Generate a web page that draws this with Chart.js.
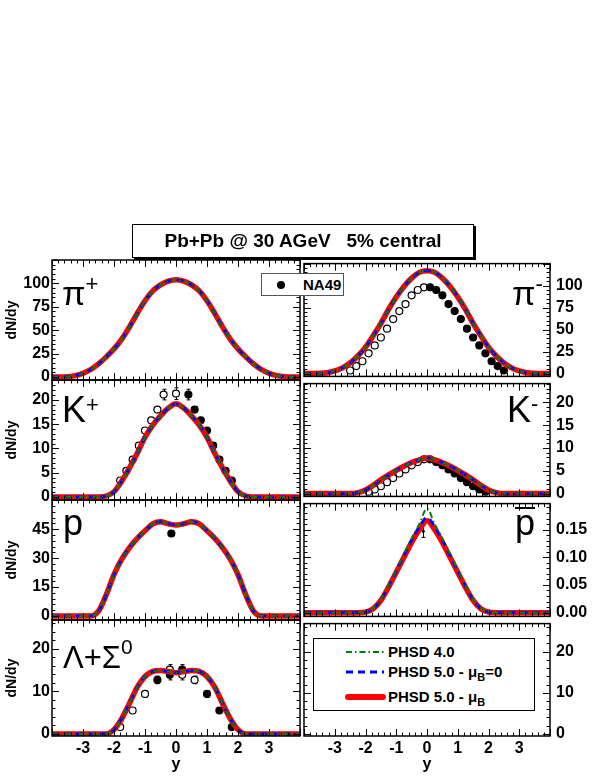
<!DOCTYPE html>
<html>
<head>
<meta charset="utf-8">
<title>Pb+Pb @ 30 AGeV rapidity spectra</title>
<script src="https://cdn.jsdelivr.net/npm/chart.js@4.4.1/dist/chart.umd.min.js"></script>
<style>
  html, body { margin: 0; padding: 0; background: #fff; }
  body { width: 599px; height: 776px; position: relative; overflow: hidden;
         font-family: "Liberation Sans", Arial, sans-serif; color: #000; }
  canvas { position: absolute; }
  .box { position: absolute; background: #fff; box-sizing: border-box; z-index: 2; }
  .lbl { position: absolute; line-height: 1; white-space: nowrap; z-index: 2; }
  .txt { position: absolute; font-weight: bold; font-size: 15px; line-height: 18px; white-space: nowrap; }
</style>
</head>
<body>

<div class="box" id="titleBox" style="left:132px; top:224px; width:342px; height:34px; border:1px solid #000; box-shadow:2px 2px 0 #000;
     font-weight:bold; font-size:19px; line-height:32px; text-align:center; white-space:pre;">Pb+Pb @ 30 AGeV   5% central</div>

<div class="box" id="na49Box" style="left:261px; top:273px; width:83px; height:23px; border:1px solid #555;">
  <div style="position:absolute; left:15px; top:7px; width:8px; height:8px; border-radius:50%; background:#000;"></div>
  <div class="txt" style="left:41px; top:2px;">NA49</div>
</div>

<div class="box" id="modelLegend" style="left:313px; top:638px; width:222px; height:73px; border:1px solid #000;">
  <svg width="222" height="73" style="position:absolute; left:-1px; top:-1px;">
    <line x1="33" y1="14" x2="71" y2="14" stroke="#008000" stroke-width="2" stroke-dasharray="6,3,1.5,3"/>
    <line x1="33" y1="34" x2="71" y2="34" stroke="#0000ff" stroke-width="3" stroke-dasharray="7,5"/>
    <line x1="35" y1="59" x2="70" y2="59" stroke="#ff0000" stroke-width="6" stroke-linecap="round"/>
  </svg>
  <div class="txt" style="left:74px; top:4px;">PHSD 4.0</div>
  <div class="txt" style="left:74px; top:24px;">PHSD 5.0 - &mu;<sub style="font-size:11px;">B</sub>=0</div>
  <div class="txt" style="left:74px; top:49px;">PHSD 5.0 - &mu;<sub style="font-size:11px;">B</sub></div>
</div>

<div class="lbl" style="left:62px; top:273px; font-size:34px;">&pi;<span style="font-size:22px; vertical-align:14px;">+</span></div>
<div class="lbl" style="left:512px; top:273px; font-size:34px;">&pi;<span style="font-size:22px; vertical-align:14px;">-</span></div>
<div class="lbl" style="left:62px; top:392px; font-size:36px;">K<span style="font-size:22px; vertical-align:10px;">+</span></div>
<div class="lbl" style="left:507px; top:392px; font-size:36px;">K<span style="font-size:22px; vertical-align:11px;">-</span></div>
<div class="lbl" style="left:63px; top:505px; font-size:36px;">p</div>
<div class="lbl" style="left:515px; top:505px; font-size:36px;"><span style="display:inline-block; border-top:2px solid #000; line-height:27px;">p</span></div>
<div class="lbl" style="left:63px; top:636px; font-size:31px;">&Lambda;+&Sigma;<span style="font-size:21px; vertical-align:14px;">0</span></div>

<script>
// rapidity grid of the model curves
const rapidity = [-4, -3.75, -3.5, -3.25, -3, -2.75, -2.5, -2.25, -2, -1.75, -1.5, -1.25, -1, -0.75, -0.5, -0.25,
  0, 0.25, 0.5, 0.75, 1, 1.25, 1.5, 1.75, 2, 2.25, 2.5, 2.75, 3, 3.25, 3.5, 3.75, 4];

const xTickValues = [-3, -2, -1, 0, 1, 2, 3];
const xTickLabels = ['-3', '-2', '-1', '0', '1', '2', '3'];

const pionTickValues = [0, 25, 50, 75, 100];
const pionTickLabels = ['0', '25', '50', '75', '100'];
const kaonTickValues = [0, 5, 10, 15, 20];
const kaonTickLabels = ['0', '5', '10', '15', '20'];
const protonTickValues = [0, 15, 30, 45];
const protonTickLabels = ['0', '15', '30', '45'];
const pbarTickValues = [0, 0.05, 0.1, 0.15];
const pbarTickLabels = ['0.00', '0.05', '0.10', '0.15'];
const lambdaTickValues = [0, 10, 20];
const lambdaTickLabels = ['0', '10', '20'];

// PHSD curves (the three versions lie on top of each other except for pbar)
const piPlusModel = [0, 0, 0.4, 1.5, 4, 8, 14, 21.5, 30, 40.5, 53.5, 68, 81.5, 92, 98.5, 102.5,
  104, 102.5, 98.5, 92, 81.5, 68, 53.5, 40.5, 30, 21.5, 14, 8, 4, 1.5, 0.4, 0, 0];
const piMinusModel = [0, 0, 0.3, 1, 3, 6.5, 12, 20, 30, 43, 57, 73, 87, 99, 108.5, 115,
  117, 115, 108.5, 99, 87, 73, 57, 43, 30, 20, 12, 6.5, 3, 1, 0.3, 0, 0];
const kPlusModel = [0, 0, 0, 0, 0, 0, 0, 0.2, 1.1, 3.3, 6.0, 9.0, 12.3, 14.8, 16.7, 18.3,
  19.2, 18.3, 16.7, 14.8, 12.3, 9.0, 6.0, 3.3, 1.1, 0.2, 0, 0, 0, 0, 0, 0, 0];
const kMinusModel = [0, 0, 0, 0, 0, 0, 0, 0.2, 0.8, 1.8, 3.0, 4.1, 5.1, 6.0, 6.8, 7.4,
  7.8, 7.4, 6.8, 6.0, 5.1, 4.1, 3.0, 1.8, 0.8, 0.2, 0, 0, 0, 0, 0, 0, 0];
const protonModel = [0, 0, 0, 0, 0, 0, 2.5, 11, 21.5, 29.5, 35.5, 40.3, 44.2, 47.8, 48.9, 47.9,
  47.2, 47.9, 48.9, 47.8, 44.2, 40.3, 35.5, 29.5, 21.5, 11, 2.5, 0, 0, 0, 0, 0, 0];
const pbarPHSD4 = [0, 0, 0, 0, 0, 0, 0, 0, 0.001, 0.008, 0.024, 0.049, 0.077, 0.105, 0.134, 0.160,
  0.188, 0.160, 0.134, 0.105, 0.077, 0.049, 0.024, 0.008, 0.001, 0, 0, 0, 0, 0, 0, 0, 0];
const pbarPHSD5mu0 = [0, 0, 0, 0, 0, 0, 0, 0, 0.001, 0.007, 0.023, 0.048, 0.075, 0.103, 0.131, 0.155,
  0.172, 0.155, 0.131, 0.103, 0.075, 0.048, 0.023, 0.007, 0.001, 0, 0, 0, 0, 0, 0, 0, 0];
const pbarPHSD5muB = [0, 0, 0, 0, 0, 0, 0, 0, 0.001, 0.007, 0.022, 0.046, 0.073, 0.100, 0.127, 0.150,
  0.166, 0.150, 0.127, 0.100, 0.073, 0.046, 0.022, 0.007, 0.001, 0, 0, 0, 0, 0, 0, 0, 0];
const lambdaModel = [0, 0, 0, 0, 0, 0, 0, 0, 1.0, 3.6, 7.2, 11.0, 13.5, 14.7, 14.9, 14.7,
  14.4, 14.7, 14.9, 14.7, 13.5, 11.0, 7.2, 3.6, 1.0, 0, 0, 0, 0, 0, 0, 0, 0];

// NA49 measured points (filled) and reflected points (open)
const piMinusY = [0.1, 0.3, 0.5, 0.7, 0.9, 1.1, 1.3, 1.5, 1.7, 1.9, 2.1, 2.3, 2.5];
const piMinusDndy = [98, 95, 89, 79, 71, 62, 51, 41, 32, 23, 14, 8.5, 3.5];
const piMinusReflY = [-0.1, -0.3, -0.5, -0.7, -0.9, -1.1, -1.3, -1.5, -1.7, -1.9, -2.1, -2.3, -2.5];
const piMinusReflDndy = [98, 95, 89, 79, 71, 62, 51, 41, 32, 23, 14, 8.5, 3.5];

const kPlusY = [0.4, 0.6, 0.8, 1.0, 1.2, 1.4, 1.6, 1.8];
const kPlusDndy = [21.1, 18.0, 15.8, 13.7, 10.6, 7.7, 5.4, 3.4];
const kPlusErr = [1.1, 0.6, 0.5, 0.4, 0.4, 0.3, 0.3, 0.2];
const kPlusReflY = [0, -0.4, -0.6, -0.8, -1.0, -1.2, -1.4, -1.6, -1.8];
const kPlusReflDndy = [21.3, 21.1, 18.0, 15.8, 13.7, 10.6, 7.7, 5.4, 3.4];
const kPlusReflErr = [1.2, 1.1, 0.6, 0.5, 0.4, 0.4, 0.3, 0.3, 0.2];

const kMinusY = [0.1, 0.3, 0.5, 0.7, 0.9, 1.1, 1.3, 1.5, 1.7, 1.9];
const kMinusDndy = [7.5, 6.9, 6.2, 5.3, 4.4, 3.4, 2.5, 1.6, 0.9, 0.4];
const kMinusReflY = [-0.1, -0.3, -0.5, -0.7, -0.9, -1.1, -1.3, -1.5, -1.7, -1.9];
const kMinusReflDndy = [7.5, 6.9, 6.2, 5.3, 4.4, 3.4, 2.5, 1.6, 0.9, 0.4];

const protonY = [-0.15];
const protonDndy = [42.8];
const protonErr = [1.5];

const pbarY = [-0.12];
const pbarDndy = [0.147];
const pbarErr = [0.011];

const lambdaY = [-0.6, -0.2, 0.2, 1.0, 1.4, 1.8];
const lambdaDndy = [12.7, 13.9, 15.1, 9.4, 5.5, 1.6];
const lambdaErr = [0.9, 1.2, 1.2, 0.8, 0.6, 0.5];
const lambdaReflY = [0.6, 0.2, -0.2, -1.0, -1.4, -1.8];
const lambdaReflDndy = [12.7, 13.9, 15.1, 9.4, 5.5, 1.6];
const lambdaReflErr = [0.9, 1.2, 1.2, 0.8, 0.6, 0.5];

// ---- layout ----
const PAD = 12;
const colX = [[52, 300], [304, 550]];
const rowY = [[260, 380], [380, 500], [500, 620], [620, 736]];
const yAxisW = [52, 46];
const xAxisH = 42;

Chart.defaults.font.family = '"Liberation Sans", Arial, sans-serif';
Chart.defaults.color = '#000';

// frame with inward major/minor ticks on all four sides
const frameTicks = {
  id: 'frameTicks',
  afterDatasetsDraw(chart, args, opts) {
    const {ctx, chartArea: a} = chart;
    const xs = chart.scales.x, ys = chart.scales.y;
    const marks = (scale, minor, major, draw) => {
      const n0 = Math.ceil(scale.min / minor - 1e-6), n1 = Math.floor(scale.max / minor + 1e-6);
      for (let n = n0; n <= n1; n++) {
        const v = n * minor, r = v / major;
        draw(scale.getPixelForValue(v), Math.abs(r - Math.round(r)) < 1e-6 ? 7 : 3.5);
      }
    };
    ctx.save();
    ctx.strokeStyle = '#000';
    ctx.lineWidth = 1;
    ctx.beginPath();
    marks(xs, opts.xMinor, opts.xMajor, (px, len) => {
      px = Math.round(px) + 0.5;
      ctx.moveTo(px, a.bottom); ctx.lineTo(px, a.bottom - len);
      ctx.moveTo(px, a.top); ctx.lineTo(px, a.top + len);
    });
    marks(ys, opts.yMinor, opts.yMajor, (py, len) => {
      py = Math.round(py) + 0.5;
      ctx.moveTo(a.left, py); ctx.lineTo(a.left + len, py);
      ctx.moveTo(a.right, py); ctx.lineTo(a.right - len, py);
    });
    ctx.stroke();
    ctx.lineWidth = 1.5;
    ctx.strokeRect(a.left, a.top, a.width, a.height);
    ctx.restore();
  }
};

// vertical error bars read from dataset.errors
const errorBars = {
  id: 'errorBars',
  beforeDatasetsDraw(chart) {
    const {ctx} = chart;
    const xs = chart.scales.x, ys = chart.scales.y;
    ctx.save();
    ctx.strokeStyle = '#000';
    ctx.lineWidth = 1;
    ctx.beginPath();
    chart.data.datasets.forEach(ds => {
      if (!ds.errors) return;
      ds.data.forEach((pt, i) => {
        const e = ds.errors[i];
        const px = Math.round(xs.getPixelForValue(pt.x)) + 0.5;
        const t = ys.getPixelForValue(pt.y + e), b = ys.getPixelForValue(pt.y - e);
        ctx.moveTo(px, t); ctx.lineTo(px, b);
        ctx.moveTo(px - 2, t); ctx.lineTo(px + 2, t);
        ctx.moveTo(px - 2, b); ctx.lineTo(px + 2, b);
      });
    });
    ctx.stroke();
    ctx.restore();
  }
};

function curves(phsd4, mu0, muB) {
  const pts = arr => rapidity.map((x, i) => ({x, y: arr[i]}));
  const base = {pointRadius: 0, fill: false, cubicInterpolationMode: 'monotone'};
  return [
    {...base, label: 'PHSD 4.0', data: pts(phsd4), borderColor: '#008000', borderWidth: 2, borderDash: [6, 3, 1.5, 3]},
    {...base, label: 'PHSD 5.0 - muB=0', data: pts(mu0), borderColor: '#0000ff', borderWidth: 2.8, borderDash: [7, 5]},
    {...base, label: 'PHSD 5.0 - muB', data: pts(muB), borderColor: '#ff0000', borderWidth: 5.5}
  ];
}

function points(xs, ys, filled, errs) {
  return {
    label: filled ? 'NA49' : 'NA49 reflected',
    data: xs.map((x, i) => ({x, y: ys[i]})),
    showLine: false,
    pointRadius: 3.5,
    pointBorderWidth: 1.2,
    pointBorderColor: '#000',
    pointBackgroundColor: filled ? '#000' : '#fff',
    errors: errs
  };
}

const panels = [
  {col: 0, row: 0, yMin: -3.2, yMax: 125, ticks: pionTickValues, labels: pionTickLabels, yMajor: 25, yMinor: 5,
   datasets: curves(piPlusModel, piPlusModel, piPlusModel)},
  {col: 1, row: 0, yMin: -3.2, yMax: 125, ticks: pionTickValues, labels: pionTickLabels, yMajor: 25, yMinor: 5,
   datasets: [...curves(piMinusModel, piMinusModel, piMinusModel),
     points(piMinusY, piMinusDndy, true), points(piMinusReflY, piMinusReflDndy, false)]},
  {col: 0, row: 1, yMin: -0.62, yMax: 24.1, ticks: kaonTickValues, labels: kaonTickLabels, yMajor: 5, yMinor: 1,
   datasets: [...curves(kPlusModel, kPlusModel, kPlusModel),
     points(kPlusY, kPlusDndy, true, kPlusErr), points(kPlusReflY, kPlusReflDndy, false, kPlusReflErr)]},
  {col: 1, row: 1, yMin: -0.62, yMax: 24.1, ticks: kaonTickValues, labels: kaonTickLabels, yMajor: 5, yMinor: 1,
   datasets: [...curves(kMinusModel, kMinusModel, kMinusModel),
     points(kMinusY, kMinusDndy, true), points(kMinusReflY, kMinusReflDndy, false)]},
  {col: 0, row: 2, yMin: -2.1, yMax: 60.2, ticks: protonTickValues, labels: protonTickLabels, yMajor: 15, yMinor: 3,
   datasets: [...curves(protonModel, protonModel, protonModel), points(protonY, protonDndy, true, protonErr)]},
  {col: 1, row: 2, yMin: -0.0068, yMax: 0.197, ticks: pbarTickValues, labels: pbarTickLabels, yMajor: 0.05, yMinor: 0.01,
   datasets: [...curves(pbarPHSD4, pbarPHSD5mu0, pbarPHSD5muB),
     {...points(pbarY, pbarDndy, true, pbarErr), pointRadius: 1}]},
  {col: 0, row: 3, yMin: -0.5, yMax: 26.8, ticks: lambdaTickValues, labels: lambdaTickLabels, yMajor: 10, yMinor: 2,
   datasets: [...curves(lambdaModel, lambdaModel, lambdaModel),
     points(lambdaY, lambdaDndy, true, lambdaErr), points(lambdaReflY, lambdaReflDndy, false, lambdaReflErr)]},
  {col: 1, row: 3, yMin: -0.5, yMax: 26.8, ticks: lambdaTickValues, labels: lambdaTickLabels, yMajor: 10, yMinor: 2,
   datasets: []}
];

panels.forEach(p => {
  const [x0, x1] = colX[p.col];
  const [y0, y1] = rowY[p.row];
  const left = p.col === 0;
  const bottom = p.row === 3;
  const cw = (x1 - x0) + yAxisW[p.col] + 2 * PAD;
  const ch = (y1 - y0) + (bottom ? xAxisH : 0) + 2 * PAD;

  const canvas = document.createElement('canvas');
  canvas.width = cw;
  canvas.height = ch;
  canvas.style.width = cw + 'px';
  canvas.style.height = ch + 'px';
  canvas.style.left = (left ? x0 - yAxisW[0] - PAD : x0 - PAD) + 'px';
  canvas.style.top = (y0 - PAD) + 'px';
  document.body.insertBefore(canvas, document.body.firstChild);

  new Chart(canvas.getContext('2d'), {
    type: 'line',
    data: {datasets: p.datasets},
    plugins: [errorBars, frameTicks],
    options: {
      responsive: false,
      animation: false,
      devicePixelRatio: 1,
      events: [],
      layout: {padding: PAD},
      plugins: {
        legend: {display: false},
        tooltip: {enabled: false},
        frameTicks: {xMajor: 1, xMinor: 0.2, yMajor: p.yMajor, yMinor: p.yMinor}
      },
      scales: {
        x: {
          type: 'linear', min: -4, max: 4, display: bottom,
          afterBuildTicks: s => { s.ticks = xTickValues.map(v => ({value: v})); },
          afterFit: s => { s.height = bottom ? xAxisH : 0; },
          grid: {display: false, drawTicks: false},
          border: {display: false},
          ticks: {padding: 3, autoSkip: false, maxRotation: 0, font: {size: 16, weight: 'bold'},
                  callback: (v, i) => xTickLabels[i]},
          title: {display: bottom, text: 'y', font: {size: 16, weight: 'bold'}, padding: {top: 0, bottom: 4}}
        },
        y: {
          type: 'linear', position: left ? 'left' : 'right', min: p.yMin, max: p.yMax,
          afterBuildTicks: s => { s.ticks = p.ticks.map(v => ({value: v})); },
          afterFit: s => { s.width = yAxisW[p.col]; },
          grid: {display: false, drawTicks: false},
          border: {display: false},
          ticks: {padding: left ? 2 : 6, autoSkip: false, font: {size: 16, weight: 'bold'},
                  callback: (v, i) => p.labels[i]},
          title: {display: left, text: 'dN/dy', font: {size: 14, weight: 'bold'}, padding: {top: 4, bottom: 0}}
        }
      }
    }
  });
});
</script>
</body>
</html>
